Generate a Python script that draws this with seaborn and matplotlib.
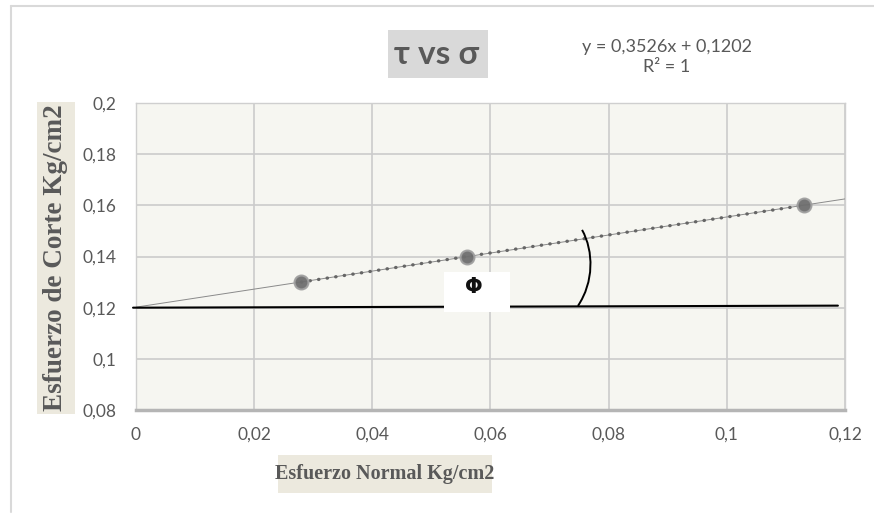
import matplotlib
matplotlib.use("Agg")
import matplotlib.pyplot as plt
import seaborn as sns
import numpy as np
import pandas as pd
from matplotlib.path import Path
from matplotlib.patches import PathPatch, Rectangle

# ---- data ----
sigma = [0.028, 0.056, 0.113]
tau = [0.13, 0.14, 0.16]
slope = 0.3526
intercept = 0.1202
x_ticks = [0, 0.02, 0.04, 0.06, 0.08, 0.1, 0.12]
x_tick_labels = ["0", "0,02", "0,04", "0,06", "0,08", "0,1", "0,12"]
y_ticks = [0.08, 0.1, 0.12, 0.14, 0.16, 0.18, 0.2]
y_tick_labels = ["0,08", "0,1", "0,12", "0,14", "0,16", "0,18", "0,2"]
title = "τ vs σ"
eq_text = "y = 0,3526x + 0,1202\nR² = 1"
xlabel = "Esfuerzo Normal Kg/cm2"
ylabel = "Esfuerzo de Corte Kg/cm2"

df = pd.DataFrame({"sigma": sigma, "tau": tau})

sns.set_theme(style="white")
plt.rcParams['font.family'] = ['Lato', 'DejaVu Sans']

W, H = 874, 514
fig = plt.figure(figsize=(8.74, 5.14), dpi=100)
fig.patch.set_facecolor("white")
ax = fig.add_axes([0.1556, 0.2023, 0.8112, 0.5973])
ax.set_facecolor("#f6f6f1")

# outer frame lines
fig.add_artist(plt.Line2D([11/W, 11/W], [1 - 512/H, 1 - 6/H], color="#d9d9d9", lw=1.5))
fig.add_artist(plt.Line2D([11/W, 1.0], [1 - 6/H, 1 - 6/H], color="#d9d9d9", lw=1.5))

ax.set_xlim(0, 0.12)
ax.set_ylim(0.08, 0.2)
ax.set_xticks(x_ticks)
ax.set_xticklabels(x_tick_labels)
ax.set_yticks(y_ticks)
ax.set_yticklabels(y_tick_labels)
ax.tick_params(axis="both", length=0, labelsize=12.5, colors="#595959")
ax.tick_params(axis="x", pad=12)
ax.tick_params(axis="y", pad=14)
ax.grid(True, color="#cbcbcb", lw=1.2)
for s in ["left", "right", "top"]:
    ax.spines[s].set_color("#cfcfcf")
    ax.spines[s].set_linewidth(1)
ax.spines["bottom"].set_color("#b5b5b5")
ax.spines["bottom"].set_linewidth(2.5)

# trendline
xt = np.array([0, 0.12])
ax.plot(xt, slope * xt + intercept, color="#8a8a8a", lw=0.7, zorder=3)

# dotted series line
sns.lineplot(data=df, x="sigma", y="tau", ax=ax, color="#666666", lw=2.4,
             linestyle=(0, (0.1, 2.5)), dash_capstyle="round", zorder=4)
sns.scatterplot(data=df, x="sigma", y="tau", ax=ax, color="#6e6e6e", s=100,
                edgecolor="#a0a0a0", linewidth=1.5, alpha=0.95, zorder=5)
ax.set_xlabel("")
ax.set_ylabel("")

# horizontal reference line
ax.plot([-0.0005, 0.1188], [0.12, 0.1208], color="black", lw=1.5, clip_on=False, zorder=6)

# angle arc
verts = [(0.0748, 0.1207), (0.0775, 0.130), (0.0775, 0.142), (0.0755, 0.1504)]
codes = [Path.MOVETO, Path.CURVE4, Path.CURVE4, Path.CURVE4]
ax.add_patch(PathPatch(Path(verts, codes), fill=False, color="black", lw=1.4, zorder=6))

# phi label in white box
ax.add_patch(Rectangle((0.0521, 0.1183), 0.0112, 0.0156, fc="white", ec="none", zorder=7))
ax.text(0.0572, 0.1281, "Φ", ha="center", va="center", fontsize=15, fontweight="bold",
        color="#111111", family=["DejaVu Sans"], zorder=8)

# title
fig.add_artist(Rectangle((388/W, 1 - 78/H), 100/W, 48/H, transform=fig.transFigure,
                         fc="#d9d9d9", ec="none"))
fig.text(437/W, 1 - 54/H, title, ha="center", va="center", fontsize=24,
         fontweight="bold", color="#595959")

# equation
fig.text(667/W, 1 - 57/H, eq_text, ha="center", va="center", fontsize=13,
         color="#595959", linespacing=1.35)

# axis labels
fig.add_artist(Rectangle((278/W, 1 - 493/H), 214/W, 38/H, transform=fig.transFigure,
                         fc="#ece9de", ec="none"))
fig.text(385/W, 1 - 474/H, xlabel, ha="center", va="center", fontsize=14.5,
         fontweight="bold", color="#595959", family=["Liberation Serif"])
fig.add_artist(Rectangle((37/W, 1 - 414/H), 38/W, 312/H, transform=fig.transFigure,
                         fc="#ece9de", ec="none"))
fig.text(56/W, 1 - 258/H, ylabel, ha="center", va="center", fontsize=19.5,
         fontweight="bold", color="#595959", family=["Liberation Serif"], rotation=90)

fig.savefig("out.png", dpi=100)
